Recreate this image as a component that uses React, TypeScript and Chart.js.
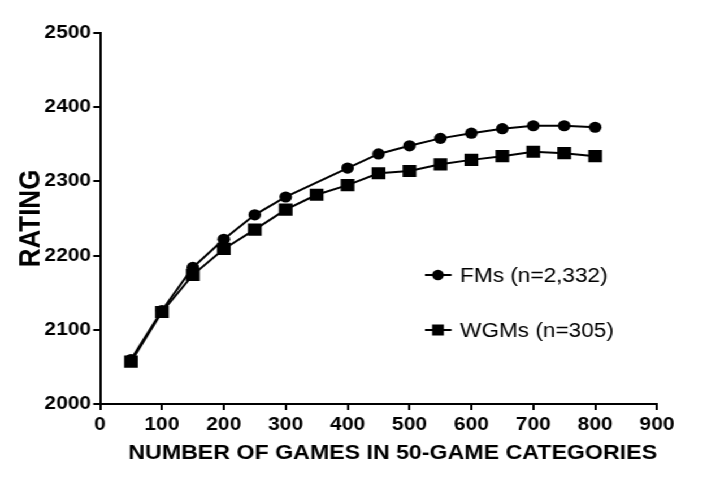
import { useEffect, useRef } from "react";
import { Chart, registerables } from "chart.js";

Chart.register(...registerables);

// Games played (50-game categories) and mean rating per group
const fmGames = [50, 100, 150, 200, 250, 300, 400, 450, 500, 550, 600, 650, 700, 750, 800];
const fmRating = [2060, 2126, 2184, 2222, 2255, 2279, 2318, 2337, 2348, 2358, 2365, 2371, 2375, 2375, 2373];

const wgmGames = [50, 100, 150, 200, 250, 300, 350, 400, 450, 500, 550, 600, 650, 700, 750, 800];
const wgmRating = [2057, 2124, 2174, 2209, 2235, 2262, 2282, 2295, 2311, 2314, 2323, 2329, 2334, 2340, 2338, 2334];

const legendLabels = ["FMs (n=2,332)", "WGMs (n=305)"];

const FONT = "'Liberation Sans', Arial, sans-serif";
// the reference picture is stretched horizontally, so draw narrow and scale up
const STRETCH = 720 / 637;

// draws the line+marker legend inside the plot
const insideLegend = {
  id: "insideLegend",
  afterDraw(chart: Chart) {
    const { ctx, chartArea } = chart;
    const x0 = chartArea.left + 287.5;
    const rows = [275, 330];
    ctx.save();
    ctx.fillStyle = "#000";
    ctx.strokeStyle = "#000";
    ctx.lineWidth = 2;
    ctx.font = `20px ${FONT}`;
    ctx.textBaseline = "middle";
    rows.forEach((y, i) => {
      ctx.beginPath();
      ctx.moveTo(x0, y);
      ctx.lineTo(x0 + 23.5, y);
      ctx.stroke();
      const cx = x0 + 11.5;
      if (i === 0) {
        ctx.beginPath();
        ctx.arc(cx, y, 5.2, 0, Math.PI * 2);
        ctx.fill();
      } else {
        ctx.fillRect(cx - 5.2, y - 5.5, 10.4, 11);
      }
      ctx.fillText(legendLabels[i], x0 + 31, y + 1);
    });
    ctx.restore();
  },
};

const RatingChart = () => {
  const chartRef = useRef<HTMLCanvasElement>(null);

  useEffect(() => {
    if (!chartRef.current) return;
    Chart.defaults.color = "#000";

    const chart = new Chart(chartRef.current, {
      type: "line",
      data: {
        datasets: [
          {
            label: legendLabels[0],
            data: fmGames.map((g, i) => ({ x: g, y: fmRating[i] })),
            borderColor: "#000",
            backgroundColor: "#000",
            borderWidth: 2,
            pointStyle: "circle",
            pointRadius: 5.6,
            pointBorderWidth: 0,
            fill: false,
          },
          {
            label: legendLabels[1],
            data: wgmGames.map((g, i) => ({ x: g, y: wgmRating[i] })),
            borderColor: "#000",
            backgroundColor: "#000",
            borderWidth: 2,
            pointStyle: "rect",
            pointRadius: 8.6,
            pointBorderWidth: 0,
            fill: false,
          },
        ],
      },
      options: {
        animation: false,
        responsive: true,
        maintainAspectRatio: false,
        layout: { padding: { top: 33, right: 55.7, left: 0, bottom: 0 } },
        plugins: {
          legend: { display: false },
          tooltip: { enabled: false },
        },
        scales: {
          x: {
            type: "linear",
            min: 0,
            max: 900,
            border: { display: true, color: "#000", width: 2 },
            grid: { drawOnChartArea: false, drawTicks: true, tickLength: 6, color: "#000", lineWidth: 2 },
            ticks: {
              stepSize: 100,
              padding: 4,
              color: "#000",
              font: { family: FONT, size: 18.5, weight: "bold" },
              callback: (v) => String(v),
            },
            title: {
              display: true,
              text: "NUMBER OF GAMES IN 50-GAME CATEGORIES",
              align: "end",
              color: "#000",
              font: { family: FONT, size: 20.5, weight: "bold" },
              padding: { top: 0, bottom: 15 },
            },
            afterFit: (scale) => {
              scale.height = 77;
            },
          },
          y: {
            min: 2000,
            max: 2500,
            border: { display: true, color: "#000", width: 2 },
            grid: { drawOnChartArea: false, drawTicks: true, tickLength: 6, color: "#000", lineWidth: 2 },
            ticks: {
              stepSize: 100,
              padding: 2,
              color: "#000",
              font: { family: FONT, size: 18.5, weight: "bold" },
              callback: (v) => String(v),
            },
            title: {
              display: true,
              text: "RATING",
              color: "#000",
              font: { family: FONT, size: 26, weight: "bold" },
              padding: { top: 12, bottom: 0 },
            },
            afterFit: (scale) => {
              scale.width = 88.5;
            },
          },
        },
      },
      plugins: [insideLegend],
    });

    return () => {
      chart.destroy();
    };
  }, []);

  return (
    <div
      style={{
        position: "fixed",
        top: 0,
        left: 0,
        width: 720 / STRETCH,
        height: 481,
        transform: `scaleX(${STRETCH})`,
        transformOrigin: "0 0",
        background: "#fff",
      }}
    >
      <canvas ref={chartRef} />
    </div>
  );
};

export default function App() {
  return <RatingChart />;
}
